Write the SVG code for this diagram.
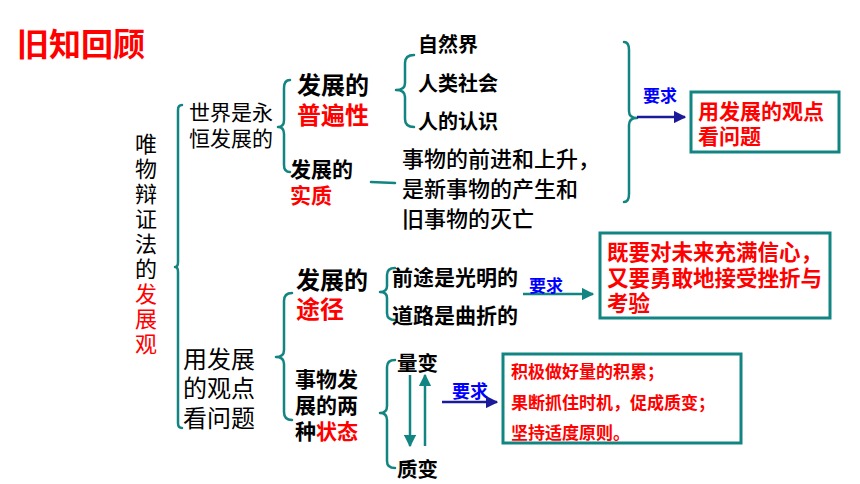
<svg xmlns="http://www.w3.org/2000/svg" width="860" height="484" viewBox="0 0 860 484">
<defs>
<style>
text{font-family:"Noto Sans CJK SC","Noto Sans",sans-serif;fill:#000}
.b{font-weight:bold}
.r{fill:#ff0000}
.bl{fill:#0000ff;font-weight:bold}
.br{fill:none;stroke:#128582;stroke-width:2.5;stroke-linecap:round;stroke-linejoin:round}
.box{fill:#fff;stroke:#128582;stroke-width:3}
</style>
<marker id="ab" viewBox="0 0 10 10" refX="9" refY="5" markerWidth="5" markerHeight="5" orient="auto"><path d="M0,0 L10,5 L0,10 Z" fill="#1a1a9a"/></marker>
<marker id="at" viewBox="0 0 10 10" refX="9" refY="5" markerWidth="5" markerHeight="5" orient="auto"><path d="M0,0 L10,5 L0,10 Z" fill="#128582"/></marker>
</defs>
<rect width="860" height="484" fill="#fff"/>
<text x="17" y="56" class="b r" font-size="32">旧知回顾</text>

<g id="root">
<text x="146" font-size="22" text-anchor="middle"><tspan x="146" y="152">唯</tspan><tspan x="146" y="177">物</tspan><tspan x="146" y="202">辩</tspan><tspan x="146" y="227">证</tspan><tspan x="146" y="252">法</tspan><tspan x="146" y="277">的</tspan><tspan x="146" y="302" class="r">发</tspan><tspan x="146" y="327" class="r">展</tspan><tspan x="146" y="352" class="r">观</tspan></text>
</g>

<g id="connectors">
<path class="br" d="M182 105 Q178 105 178 110 L178 262 Q178 267 175 267 Q178 267 178 272 L178 423 Q178 428 182 428"/>
<path class="br" d="M290 80 Q284 80 284 88 L284 120 Q284 127 278 127 Q284 127 284 134 L284 165 Q284 172 290 172"/>
<path class="br" d="M414 55 Q405 55 405 63 L405 83 Q405 90 396 90 Q405 90 405 97 L405 119 Q405 127 414 127"/>
<path class="br" d="M624 42 Q629 42 629 50 L629 111 Q629 118 637 118 Q629 118 629 125 L629 194 Q629 202 624 202"/>
<path class="br" d="M371 182 L395 183"/>
<path class="br" d="M292 293 Q284 293 284 301 L284 350 Q284 357 276 357 Q284 357 284 364 L284 412 Q284 420 292 420"/>
<path class="br" d="M395 268 Q387 268 387 275 L387 286 Q387 292 380 292 Q387 292 387 298 L387 313 Q387 320 395 320"/>
<path class="br" d="M395 360 Q387 360 387 367 L387 406 Q387 413 380 413 Q387 413 387 420 L387 461 Q387 468 395 468"/>
<line x1="637" y1="117" x2="685" y2="117" stroke="#1a1a9a" stroke-width="2.5" marker-end="url(#ab)"/>
<line x1="523" y1="294" x2="593" y2="294" stroke="#128582" stroke-width="2.5" marker-end="url(#at)"/>
<line x1="442" y1="402" x2="497" y2="402" stroke="#1a1a9a" stroke-width="2.5" marker-end="url(#ab)"/>
<line x1="410" y1="375" x2="410" y2="446" stroke="#128582" stroke-width="2.5" marker-end="url(#at)"/>
<line x1="425" y1="446" x2="425" y2="375" stroke="#128582" stroke-width="2.5" marker-end="url(#at)"/>
<text x="643" y="102" class="bl" font-size="17">要求</text>
<text x="529" y="292" class="bl" font-size="17">要求</text>
<text x="452" y="398" class="bl" font-size="18">要求</text>
</g>

<g id="n-world">
<text font-size="21"><tspan x="189" y="120">世界是永</tspan><tspan x="189" y="146">恒发展的</tspan></text>
</g>
<g id="n-universal">
<text class="b" font-size="24"><tspan x="297" y="94">发展的</tspan><tspan x="297" y="124" class="r">普遍性</tspan></text>
</g>
<g id="n-nature"><text x="418" y="52" class="b" font-size="20">自然界</text></g>
<g id="n-society"><text x="418" y="91" class="b" font-size="20">人类社会</text></g>
<g id="n-cognition"><text x="418" y="129" class="b" font-size="20">人的认识</text></g>
<g id="n-essence">
<text class="b" font-size="21"><tspan x="290" y="177">发展的</tspan><tspan x="290" y="203" class="r">实质</tspan></text>
</g>
<g id="n-essence-def">
<text font-size="22" font-weight="500"><tspan x="402" y="167">事物的前进和上升，</tspan><tspan x="402" y="197">是新事物的产生和</tspan><tspan x="402" y="227">旧事物的灭亡</tspan></text>
</g>
<g id="n-req1">
<rect class="box" x="691" y="92" width="148" height="60"/>
<text class="b r" font-size="21"><tspan x="698" y="119">用发展的观点</tspan><tspan x="698" y="144">看问题</tspan></text>
</g>

<g id="n-view">
<text font-size="24"><tspan x="183" y="368">用发展</tspan><tspan x="183" y="397">的观点</tspan><tspan x="183" y="427">看问题</tspan></text>
</g>
<g id="n-path">
<text class="b" font-size="24"><tspan x="296" y="289">发展的</tspan><tspan x="296" y="318" class="r">途径</tspan></text>
</g>
<g id="n-bright"><text x="392" y="285" class="b" font-size="21">前途是光明的</text></g>
<g id="n-winding"><text x="392" y="323" class="b" font-size="21">道路是曲折的</text></g>
<g id="n-req2">
<rect class="box" x="600" y="233" width="230" height="85"/>
<text class="b r" font-size="21.5"><tspan x="607" y="260">既要对未来充满信心，</tspan><tspan x="607" y="286">又要勇敢地接受挫折与</tspan><tspan x="607" y="311">考验</tspan></text>
</g>
<g id="n-states">
<text class="b" font-size="21"><tspan x="295" y="387">事物发</tspan><tspan x="295" y="413">展的两</tspan><tspan x="295" y="439">种<tspan class="r">状态</tspan></tspan></text>
</g>
<g id="n-quantity"><text x="397" y="371" class="b" font-size="20.5">量变</text></g>
<g id="n-quality"><text x="397" y="477" class="b" font-size="20.5">质变</text></g>
<g id="n-req3">
<rect class="box" x="503" y="354" width="238" height="89"/>
<text class="b r" font-size="17"><tspan x="511" y="378">积极做好量的积累；</tspan><tspan x="511" y="409">果断抓住时机，促成质变；</tspan><tspan x="511" y="439">坚持适度原则。</tspan></text>
</g>
</svg>
